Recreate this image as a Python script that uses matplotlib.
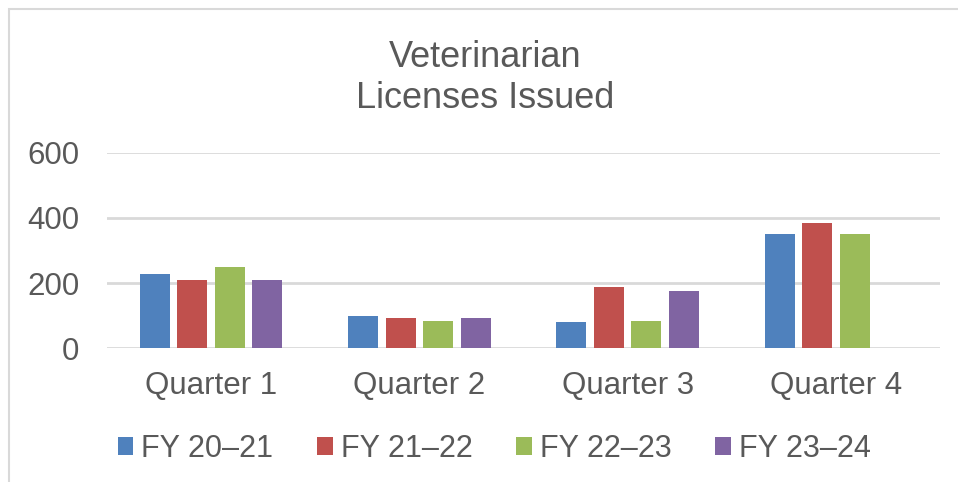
import matplotlib.pyplot as plt
import numpy as np
from matplotlib.patches import Rectangle

quarters = ["Quarter 1", "Quarter 2", "Quarter 3", "Quarter 4"]
series = ["FY 20–21", "FY 21–22", "FY 22–23", "FY 23–24"]
fy2021 = [228, 99, 80, 350]
fy2122 = [209, 93, 188, 384]
fy2223 = [249, 84, 84, 350]
fy2324 = [209, 93, 176, 0]
colors = ["#4F81BD", "#C0504D", "#9BBB59", "#8064A2"]

plt.rcParams['font.family'] = ['Liberation Sans', 'DejaVu Sans']
text_color = "#595959"

fig = plt.figure(figsize=(9.58, 4.82), dpi=100)
fig.patches.append(Rectangle((9 / 958, -0.1), 1.2, 1 - 9 / 482 + 0.1,
                             transform=fig.transFigure, fill=False,
                             edgecolor="#D9D9D9", linewidth=1.5))

ax = fig.add_axes([107 / 958, 1 - 348.3 / 482, 833 / 958, 195.8 / 482])
x = np.arange(len(quarters))
width = 0.144
step = 0.18
all_values = [fy2021, fy2122, fy2223, fy2324]
for k, vals in enumerate(all_values):
    offs = (k - 1.5) * step
    ax.bar(x + offs, vals, width, color=colors[k], label=series[k], zorder=3)

ax.set_xlim(-0.5, 3.5)
ax.set_ylim(0, 600)
ax.set_yticks([0, 200, 400, 600])
ax.set_xticks(x)
ax.set_xticklabels(quarters)
ax.grid(axis="y", color="#D9D9D9", linewidth=2, zorder=0)
for s in ax.spines.values():
    s.set_visible(False)
ax.tick_params(length=0, labelsize=22.5, labelcolor=text_color)
ax.tick_params(axis="x", pad=16)
ax.tick_params(axis="y", pad=20)

fig.text(485 / 958, 1 - 78 / 482, "Veterinarian\nLicenses Issued", ha="center", va="center",
         fontsize=26, color=text_color, linespacing=1.25)

leg = fig.legend(loc="center", bbox_to_anchor=(494 / 958, 1 - 449 / 482), ncol=4,
                 frameon=False, fontsize=22, handlelength=0.52, handleheight=0.52,
                 handletextpad=0.26, columnspacing=1.42, labelcolor=text_color)

plt.savefig("out.png", dpi=100)
